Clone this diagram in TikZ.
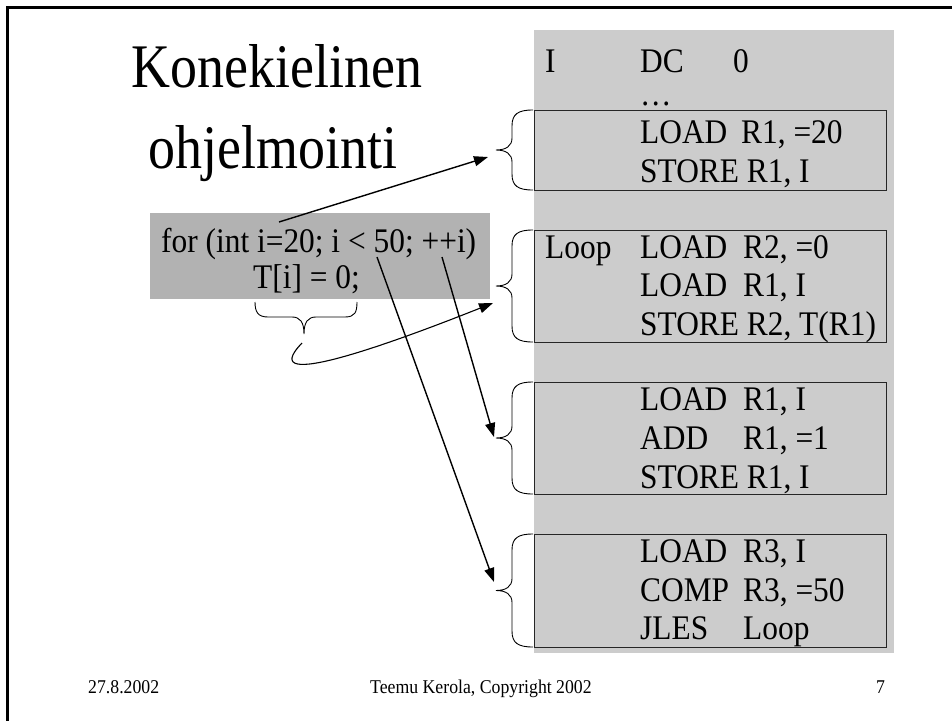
\documentclass[tikz,border=0pt]{standalone}
\usepackage{fontspec}
\setmainfont{Liberation Serif}
\newfontfamily\slidefont[FakeStretch=0.91]{Liberation Serif}
\newfontfamily\titlefont[FakeStretch=0.87]{Liberation Serif}
\usetikzlibrary{arrows.meta}
\definecolor{colgray}{gray}{0.8}
\definecolor{codegray}{gray}{0.7}
\begin{document}
\begin{tikzpicture}[x=1pt,y=-1pt,
  asm/.style={anchor=base west, inner sep=0pt, font=\slidefont\fontsize{34.5}{40}\selectfont},
  codetxt/.style={anchor=base west, inner sep=0pt, font=\slidefont\fontsize{34.5}{40}\selectfont},
  foot/.style={anchor=base west, inner sep=0pt, font=\slidefont\fontsize{19.5}{24}\selectfont},
  ttl/.style={anchor=base, inner sep=0pt, font=\titlefont\fontsize{62}{81}\selectfont},
  asmbox/.style={draw=black!85, fill=colgray, anchor=north west, minimum width=352pt, inner sep=0pt, line width=1.4pt},
  brace/.style={draw=black, line width=0.9pt},
  arr/.style={-{Triangle[length=14pt,width=10pt]}, line width=1.4pt}]
\useasboundingbox (0,0) rectangle (952,720);
\fill[white] (0,0) rectangle (952,720);
\draw[line width=3pt] (7,722) -- (7,7) -- (954,7);
% title
\node[ttl] (t1) at (277,87) {Konekielinen};
\node[ttl] (t2) at (273,168) {ohjelmointi};
% column
\node[fill=colgray, anchor=north west, minimum width=360pt, minimum height=623pt, inner sep=0pt] (col) at (534,30) {};
\node[asmbox, minimum height=80pt] (box1) at (534,110) {};
\node[asmbox, minimum height=112pt] (box2) at (534,230) {};
\node[asmbox, minimum height=112pt] (box3) at (534,382) {};
\node[asmbox, minimum height=113pt] (box4) at (534,534) {};
% asm text
\node[asm] (l0a) at (545,72) {I};
\node[asm] (l0b) at (640,72) {\makebox[93pt][l]{DC}0};
\node[asm] (l0c) at (640,105) {…};
\node[asm] (l1) at (640,143) {\makebox[101pt][l]{LOAD}R1, =20};
\node[asm] (l2) at (640,182) {STORE R1, I};
\node[asm] (lp) at (545,258) {Loop};
\node[asm] (l3) at (640,258) {\makebox[103pt][l]{LOAD}R2, =0};
\node[asm] (l4) at (640,296) {\makebox[103pt][l]{LOAD}R1, I};
\node[asm] (l5) at (640,335) {STORE R2, T(R1)};
\node[asm] (l6) at (640,410) {\makebox[103pt][l]{LOAD}R1, I};
\node[asm] (l7) at (640,449) {\makebox[103pt][l]{ADD}R1, =1};
\node[asm] (l8) at (640,488) {STORE R1, I};
\node[asm] (l9) at (640,562) {\makebox[103pt][l]{LOAD}R3, I};
\node[asm] (l10) at (640,601) {\makebox[103pt][l]{COMP}R3, =50};
\node[asm] (l11) at (640,639) {\makebox[103pt][l]{JLES}Loop};
% braces
\foreach \t/\b in {110/190, 230/342, 382/494, 534/647} {
  \pgfmathsetmacro\m{(\t+\b)/2}
  \draw[brace] (533,\t) .. controls (518,\t) and (512,\t+4) .. (512,\t+16) -- (512,\m-12)
     .. controls (512,\m-4) and (506,\m) .. (496,\m)
     .. controls (506,\m) and (512,\m+4) .. (512,\m+12) -- (512,\b-16)
     .. controls (512,\b-4) and (518,\b) .. (533,\b);
}
% code box
\node[fill=codegray, anchor=north west, minimum width=340pt, minimum height=86pt, inner sep=0pt] (codebox) at (150,213) {};
\node[codetxt] (c1) at (161,252) {for (int i=20; i < 50; ++i)};
\node[codetxt] (c2) at (253,288) {T[i] = 0;};
% small brace
\draw[brace] (255,302) .. controls (255,312) and (258,317) .. (268,317) -- (292,317)
   .. controls (300,317) and (304,322) .. (304,334)
   .. controls (304,322) and (308,317) .. (316,317) -- (345,317)
   .. controls (355,317) and (357,312) .. (357,302);
% connectors
\coordinate (s1) at (279,222);
\coordinate (e1) at (488,157);
\coordinate (s2) at (442,257);
\coordinate (e2) at (494,437);
\coordinate (s3) at (377,257);
\coordinate (e3) at (494,582);
\coordinate (s4) at (302,343);
\coordinate (e4) at (493,303);
\draw[arr] (s1) -- (e1);
\draw[arr] (s2) -- (e2);
\draw[arr] (s3) -- (e3);
\draw[arr, line width=1.1pt] (s4) .. controls (252,395) and (400,340) .. (e4);
% footer
\node[foot] (f1) at (88,693) {27.8.2002};
\node[foot] (f2) at (370,693) {Teemu Kerola, Copyright 2002};
\node[foot] (f3) at (876,693) {7};
\end{tikzpicture}
\end{document}
